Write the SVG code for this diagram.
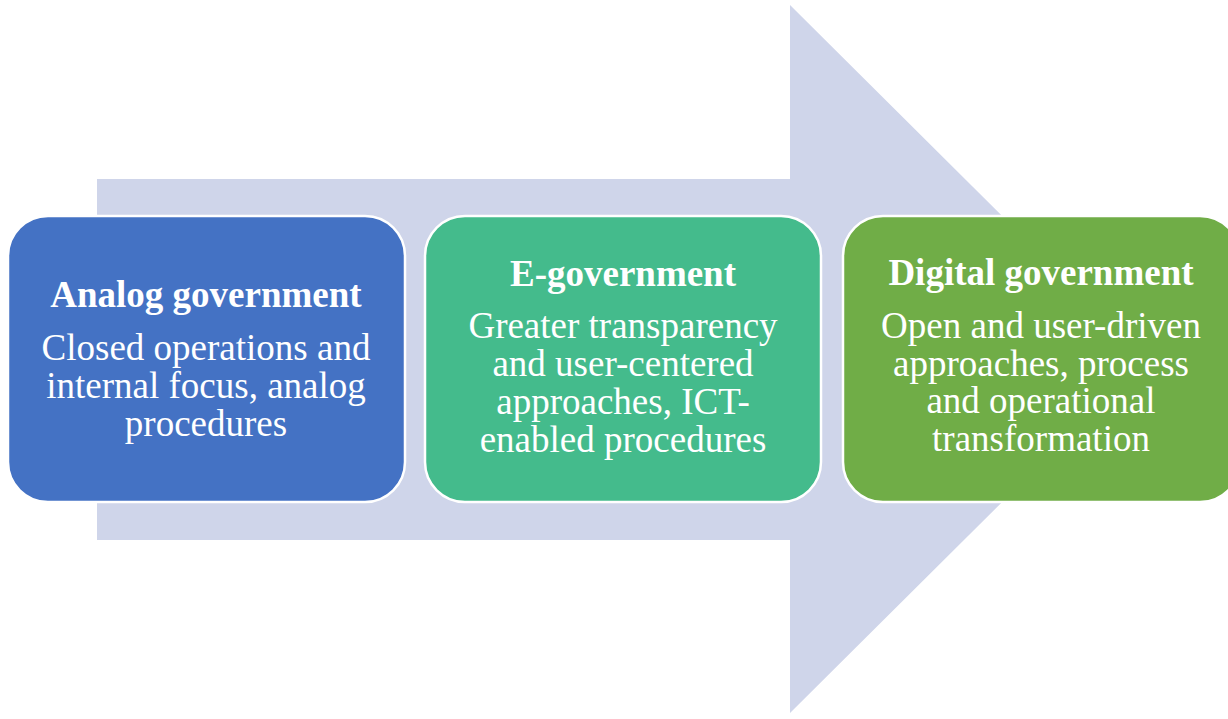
<svg xmlns="http://www.w3.org/2000/svg" width="1228" height="719" viewBox="0 0 1228 719">
<style>
.box{stroke:#ffffff;stroke-width:2.5}
.t{font-family:"Liberation Serif","Times New Roman",serif;fill:#ffffff;text-anchor:middle;font-size:37px}
.h{font-weight:bold}
</style>
<rect width="1228" height="719" fill="#ffffff"/>
<g id="arrow">
<polygon points="97,179 790,179 790,5 1146,359 790,713 790,540 97,540" fill="#CFD5EA"/>
</g>
<g id="node-analog">
<rect class="box" x="8" y="216" width="397" height="286" rx="40" fill="#4472C4"/>
<text class="t h" x="206" y="307">Analog government</text>
<text class="t" x="206" y="360">Closed operations and</text>
<text class="t" x="206" y="398">internal focus, analog</text>
<text class="t" x="206" y="436">procedures</text>
</g>
<g id="node-egov">
<rect class="box" x="425" y="216" width="396" height="286" rx="40" fill="#44BB8C"/>
<text class="t h" x="623" y="286">E-government</text>
<text class="t" x="623" y="338">Greater transparency</text>
<text class="t" x="623" y="376">and user-centered</text>
<text class="t" x="623" y="414">approaches, ICT-</text>
<text class="t" x="623" y="452">enabled procedures</text>
</g>
<g id="node-digital">
<rect class="box" x="843" y="216" width="397" height="286" rx="40" fill="#70AD47"/>
<text class="t h" x="1041" y="285">Digital government</text>
<text class="t" x="1041" y="338">Open and user-driven</text>
<text class="t" x="1041" y="376">approaches, process</text>
<text class="t" x="1041" y="413">and operational</text>
<text class="t" x="1041" y="451">transformation</text>
</g>
<g id="connectors"></g>
</svg>
